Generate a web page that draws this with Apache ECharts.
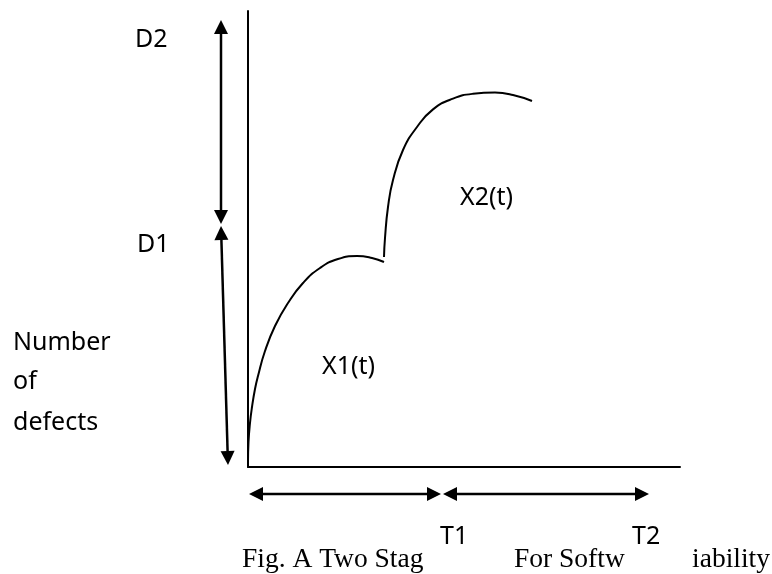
<!DOCTYPE html>
<html>
<head>
<meta charset="utf-8">
<script src="https://cdn.jsdelivr.net/npm/echarts@6/dist/echarts.min.js"></script>
<style>
  html, body { margin: 0; padding: 0; background: #fff; }
  #main { width: 772px; height: 574px; }
</style>
</head>
<body>
<div id="main"></div>
<script>
// X1(t): first stage curve (t, defects)
var x1T = [0, 0.125, 0.5, 1, 1.75, 2.5, 4.25, 6.75, 10, 13.75, 18, 22.5, 27.25, 31, 34];
var x1N = [1.25, 6.25, 11, 15, 19.5, 22.75, 29, 35.25, 41, 46, 49.75, 52, 52.75, 52.25, 51.25];
// X2(t): second stage curve
var x2T = [34, 34.25, 35, 36.25, 38.75, 42.25, 46.25, 51.25, 56.25, 61.75, 66.25, 71];
var x2N = [52.5, 57.25, 65, 71.75, 79.25, 85, 89.4, 92.1, 93.3, 93.6, 93, 91.5];
// dimension arrows (tip to tip)
var dArrows = [
    [[-6.75, 111.75], [-6.75, 60.75]],   // D2
    [[-6.75, 60.25], [-5, 0.5]]         // D1
];
var tArrows = [
    [[0.25, -6.75], [48.25, -6.75]],     // 0 .. T1
    [[48.75, -6.75], [100.25, -6.75]]   // T1 .. T2
];

var myChart = echarts.init(document.getElementById('main'));

function pairs(a, b) {
    var out = [];
    for (var i = 0; i < a.length; i++) {
        out.push([a[i], b[i]]);
    }
    return out;
}

// 双向箭头
var headLen = 14, headW = 7;
function renderArrow(params, api) {
    var a = api.coord([api.value(0), api.value(1)]);
    var b = api.coord([api.value(2), api.value(3)]);
    var dx = b[0] - a[0], dy = b[1] - a[1];
    var len = Math.sqrt(dx * dx + dy * dy);
    var ux = dx / len, uy = dy / len;
    var nx = -uy, ny = ux;
    var a2 = [a[0] + ux * headLen, a[1] + uy * headLen];
    var b2 = [b[0] - ux * headLen, b[1] - uy * headLen];
    return {
        type: 'group',
        children: [
            {
                type: 'line',
                shape: { x1: a2[0], y1: a2[1], x2: b2[0], y2: b2[1] },
                style: { stroke: '#000', lineWidth: 2.5 }
            },
            {
                type: 'polygon',
                shape: { points: [a, [a2[0] + nx * headW, a2[1] + ny * headW], [a2[0] - nx * headW, a2[1] - ny * headW]] },
                style: { fill: '#000' }
            },
            {
                type: 'polygon',
                shape: { points: [b, [b2[0] + nx * headW, b2[1] + ny * headW], [b2[0] - nx * headW, b2[1] - ny * headW]] },
                style: { fill: '#000' }
            }
        ]
    };
}

var sansFont = '25px "Noto Sans"';
function label(txt, x, y) {
    return {
        type: 'text', x: x, y: y, silent: true,
        style: { text: txt, font: sansFont, fill: '#000', verticalAlign: 'middle' }
    };
}
function caption(txt, x, align) {
    return {
        type: 'text', x: x, y: 574, silent: true,
        style: { text: txt, font: '27.5px "Liberation Serif"', fill: '#000', align: align || 'left', verticalAlign: 'bottom' }
    };
}

var lineStyle = { color: '#000', width: 2 };

var option = {
    animation: false,
    backgroundColor: '#fff',
    grid: { left: 248, top: 11, width: 432, height: 456 },
    xAxis: {
        type: 'value', min: 0, max: 108,
        axisLine: { show: true, onZero: false, lineStyle: { color: '#000', width: 2 } },
        axisTick: { show: false },
        axisLabel: { show: false },
        splitLine: { show: false }
    },
    yAxis: {
        type: 'value', min: 0, max: 114,
        axisLine: { show: true, onZero: false, lineStyle: { color: '#000', width: 2 } },
        axisTick: { show: false },
        axisLabel: { show: false },
        splitLine: { show: false }
    },
    series: [
        {
            name: 'X1(t)', type: 'line', data: pairs(x1T, x1N),
            smooth: 0.5, showSymbol: false, lineStyle: lineStyle, clip: false
        },
        {
            name: 'X2(t)', type: 'line', data: pairs(x2T, x2N),
            smooth: 0.5, showSymbol: false, lineStyle: lineStyle, clip: false
        },
        {
            name: 'arrows', type: 'custom', clip: false, silent: true,
            renderItem: renderArrow,
            encode: { x: [0, 2], y: [1, 3] },
            data: dArrows.concat(tArrows).map(function (p) {
                return [p[0][0], p[0][1], p[1][0], p[1][1]];
            })
        }
    ],
    graphic: [
        label('D2', 135, 40),
        label('D1', 137, 245),
        label('Number', 13, 343),
        label('of', 13, 382),
        label('defects', 13, 423),
        label('X1(t)', 322, 367),
        label('X2(t)', 460, 198),
        label('T1', 440, 537),
        label('T2', 632, 537),
        caption('Fig. A Two Stag', 242),
        caption('For Softw', 514),
        caption('iability', 770, 'right')
    ]
};

myChart.setOption(option);
window.addEventListener('resize', function () {
    myChart.resize();
});
</script>
</body>
</html>
